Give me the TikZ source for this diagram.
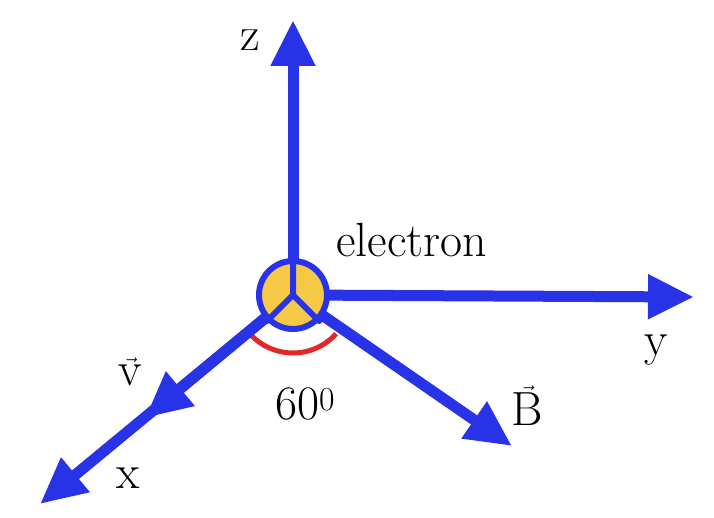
\documentclass[tikz,border=0pt]{standalone}
\usepackage{fontspec}
\usetikzlibrary{arrows.meta}
\definecolor{axblue}{RGB}{40,50,230}
\definecolor{eyellow}{RGB}{245,200,70}
\definecolor{arcred}{RGB}{225,40,40}
\tikzset{
  >={Triangle[length=46pt,width=42pt]},
  ax/.style={draw=axblue, line width=11pt, ->, color=axblue},
  lb/.style={font=\fontsize{48}{54}\selectfont, inner sep=0pt}
}
\begin{document}
\begin{tikzpicture}[x=1pt, y=-1pt]
  \useasboundingbox (0,0) rectangle (714,518);
  \coordinate (o) at (293,295);
  \coordinate (zt) at (293,20);
  \coordinate (yt) at (694,297);
  \coordinate (xt) at (40,504);
  \coordinate (vt) at (145,418);
  \coordinate (bt) at (512,446);
  \draw[arcred, line width=5pt] (o) ++(42:58) arc[start angle=42, end angle=138, radius=58];
  \draw[ax] (o) -- (zt);
  \draw[ax] (o) -- (yt);
  \draw[ax] (o) -- (xt);
  \draw[ax] (o) -- (vt);
  \draw[ax] (o) -- (bt);
  \node[circle, minimum size=68pt, fill=eyellow, draw=axblue, line width=6pt] (e) at (o) {};
  \draw[axblue, line width=6pt, line cap=round] (e.center) -- (e.north) (e.center) -- (e.south west) (e.center) -- (e.south east);
  \node[lb] (zl) at (250,40) {z};
  \node[lb] (el) at (412,240) {electron};
  \node[lb] (yl) at (656,350) {y};
  \node[lb] (vl) at (130,372) {$\vec{\mathrm{v}}$};
  \node[lb] (al) at (305,404) {60\textsuperscript{0}};
  \node[lb] (bl) at (527,406) {$\vec{\mathrm{B}}$};
  \node[lb] (xl) at (128,478) {x};
\end{tikzpicture}
\end{document}
